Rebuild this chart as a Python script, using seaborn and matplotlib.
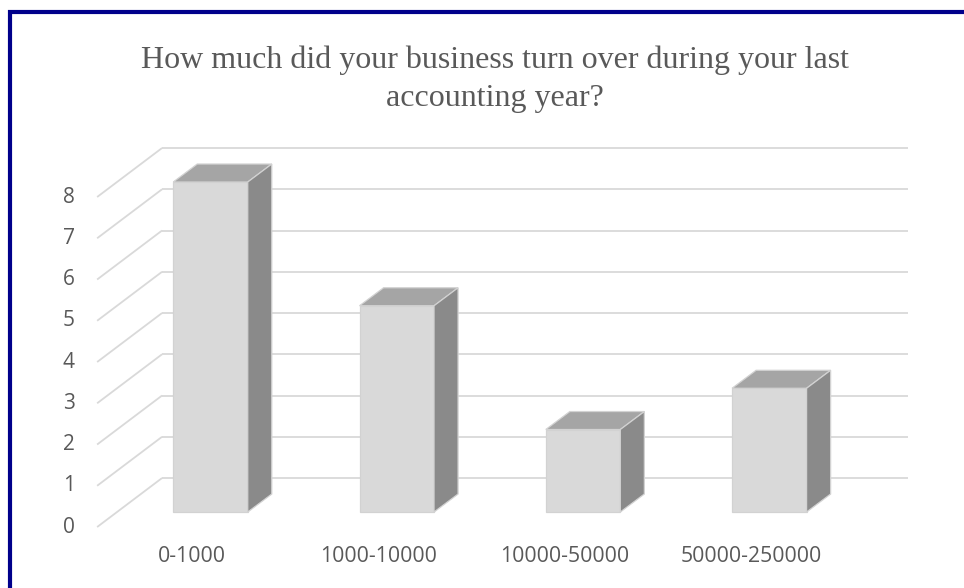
import matplotlib
matplotlib.use("Agg")
import matplotlib.pyplot as plt
from matplotlib.patches import Polygon, Rectangle
import seaborn as sns

# Survey answers: annual turnover bands and how many businesses picked each
categories = ["0-1000", "1000-10000", "10000-50000", "50000-250000"]
counts = [8, 5, 2, 3]
y_ticks = [0, 1, 2, 3, 4, 5, 6, 7, 8]
title = "How much did your business turn over during your last\naccounting year?"

W, H, DPI = 964, 588, 100
sns.set_theme(style="white")
plt.rcParams["font.family"] = ["Open Sans", "DejaVu Sans"]

fig = plt.figure(figsize=(W / DPI, H / DPI), dpi=DPI)
fig.patch.set_facecolor("white")
ax = fig.add_axes([0, 0, 1, 1])
ax.set_facecolor("none")

XLIM = (-1.130, 4.045)
YLIM = (-1.842, 12.412)

# oblique projection offsets (data units)
BACK_DX, BACK_DY = 0.2416, 0.824     # bar plane -> back wall
FRONT_DX, FRONT_DY = -0.107, -0.364  # bar plane -> front floor edge
DEPTH_DX, DEPTH_DY = 0.129, 0.436    # bar thickness

grid_c = "#d9d9d9"
text_c = "#595959"
edge_c = "#d2d2d2"
wall_x0 = -0.260
wall_x1 = 3.744

# back-wall gridlines and the slanted lines on the left side wall
for v in y_ticks:
    yb = v + BACK_DY
    yf = v + FRONT_DY
    ax.plot([wall_x0, wall_x1], [yb, yb], color=grid_c, lw=1.3, zorder=1,
            solid_capstyle="butt")
    ax.plot([wall_x0 - (BACK_DX - FRONT_DX), wall_x0], [yf, yb], color=grid_c,
            lw=1.3, zorder=1, solid_capstyle="butt")
    ax.text(-0.760, yf, str(v), ha="center", va="center", fontsize=15,
            color=text_c)

# front faces of the bars
sns.barplot(x=categories, y=counts, color="#d9d9d9", width=0.40, ax=ax,
            saturation=1, edgecolor=edge_c, linewidth=0.9, zorder=3)
ax.set_xlim(*XLIM)
ax.set_ylim(*YLIM)
ax.axis("off")

# top and side faces derived from each drawn bar
for p in ax.patches[:len(counts)]:
    x0, y0 = p.get_x(), p.get_y()
    w, h = p.get_width(), p.get_height()
    x1, y1 = x0 + w, y0 + h
    top = Polygon([(x0, y1), (x1, y1), (x1 + DEPTH_DX, y1 + DEPTH_DY),
                   (x0 + DEPTH_DX, y1 + DEPTH_DY)], closed=True,
                  facecolor="#a5a5a5", edgecolor=edge_c, lw=0.9, zorder=4)
    side = Polygon([(x1, y0), (x1 + DEPTH_DX, y0 + DEPTH_DY),
                    (x1 + DEPTH_DX, y1 + DEPTH_DY), (x1, y1)], closed=True,
                   facecolor="#8a8a8a", edgecolor=edge_c, lw=0.9, zorder=4)
    ax.add_patch(top)
    ax.add_patch(side)

# category labels along the front edge
for i, c in enumerate(categories):
    ax.text(i + FRONT_DX + 0.008, -1.09, c, ha="center", va="center",
            fontsize=15.3, color=text_c)

fig.text(495 / W, 1 - 79 / H, title, ha="center", va="center",
         fontsize=23, color=text_c, family=["Liberation Serif"],
         linespacing=1.42)

# navy frame running off the right and bottom edges
fig.patches.append(Rectangle((10 / W, -0.2), 2.0, 1.2 - 12 / H,
                             transform=fig.transFigure, fill=False,
                             edgecolor="#00008b", lw=3.0, zorder=10))

fig.savefig("out.png", dpi=DPI)
